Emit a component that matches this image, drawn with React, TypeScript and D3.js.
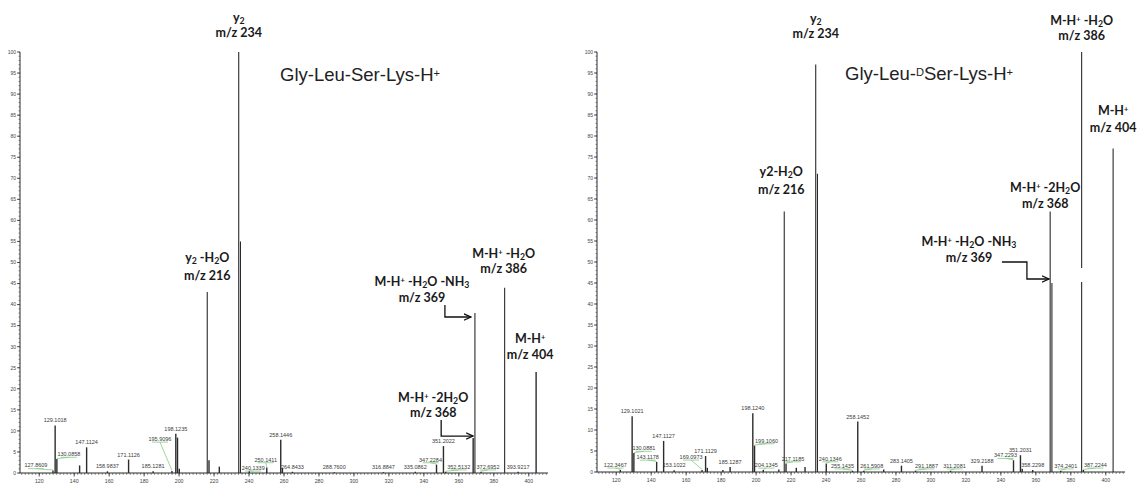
import * as d3 from "d3";
import React from "react";

// peaks: m/z, relative intensity (%), label text ("" = no label)
const leftMz = [127.86, 129.1, 130.09, 143.1, 147.11, 158.98, 171.11, 185.13, 195.91, 198.12, 199.1, 200.1, 216.1, 217.1, 223.0, 234.1, 235.1, 240.13, 250.14, 258.14, 259.1, 264.84, 288.76, 316.88, 335.09, 347.23, 351.2, 352.51, 368.2, 369.2, 372.7, 386.2, 393.92, 404.2];
const leftInt = [0.6, 11.3, 3.3, 1.8, 6.1, 0.4, 3.2, 0.4, 0.5, 9.3, 8.4, 1.0, 43, 3.0, 1.5, 100, 55, 0.5, 1.3, 7.9, 1.2, 0.3, 0.2, 0.2, 0.3, 2.0, 6.4, 0.3, 8.3, 38, 0.3, 44, 0.3, 24];
const leftLabels = ["127.8609", "129.1018", "130.0858", "", "147.1124", "158.9837", "171.1126", "185.1281", "195.9096", "198.1235", "", "", "", "", "", "", "", "240.1339", "250.1411", "258.1446", "", "264.8433", "288.7600", "316.8847", "335.0862", "347.2284", "351.2022", "352.5132", "", "", "372.6952", "", "393.9217", ""];

const rightMz = [122.35, 129.1, 130.09, 143.12, 147.11, 153.1, 169.1, 171.11, 172.1, 181.0, 185.13, 198.12, 199.11, 204.13, 213.0, 216.1, 217.12, 223.0, 228.0, 234.1, 235.1, 240.13, 255.14, 258.15, 261.59, 273.0, 283.14, 291.19, 311.21, 329.22, 347.23, 351.2, 352.2, 358.23, 368.2, 369.2, 374.24, 386.2, 387.22, 404.2];
const rightInt = [0.5, 13.3, 4.5, 2.4, 7.4, 0.4, 0.5, 3.8, 1.0, 0.5, 1.2, 14, 6.3, 0.5, 0.6, 62, 2.0, 1.0, 1.2, 97, 71, 2.0, 0.3, 12, 0.3, 0.6, 1.5, 0.3, 0.3, 1.5, 2.8, 4.0, 0.8, 0.5, 62, 45, 0.3, 100, 0.5, 77];
const rightLabels = ["122.3467", "129.1021", "130.0881", "143.1178", "147.1127", "153.1022", "169.0973", "171.1129", "", "", "185.1287", "198.1240", "199.1060", "204.1345", "", "", "217.1185", "", "", "", "", "240.1346", "255.1435", "258.1452", "261.5908", "", "283.1405", "291.1887", "311.2081", "329.2188", "347.2293", "351.2031", "", "358.2298", "", "", "374.2401", "", "387.2244", ""];

const xTicks = [120, 140, 160, 180, 200, 220, 240, 260, 280, 300, 320, 340, 360, 380, 400];
const yTicks = [0, 5, 10, 15, 20, 25, 30, 35, 40, 45, 50, 55, 60, 65, 70, 75, 80, 85, 90, 95, 100];

// label placement nudges (px) where the instrument moved labels aside
const nudges: Record<string, [number, number]> = {
  "127.8609": [-17, 0], "130.0858": [12, 0], "195.9096": [-12, -27], "240.1339": [4, 2],
  "250.1411": [-1, -3], "347.2284": [-6, 0], "352.5132": [13, 0], "372.6952": [7, 0],
  "122.3467": [-5, 0], "130.0881": [10, 0], "143.1178": [-9, 0], "169.0973": [-11, -8],
  "199.1060": [12, 0], "204.1345": [3, 0], "217.1185": [7, 0], "240.1346": [4, 0],
  "255.1435": [-10, 0], "261.5908": [8, 0], "291.1887": [11, 0], "311.2081": [4, 0],
  "347.2293": [-8, 0], "374.2401": [5, 0], "387.2244": [12, 0],
};

const mzDomain = [109, 411];
const ink = "#2b2b2b";
const green = "#86cc86";
const annFont = "Lato, 'Open Sans', sans-serif";
const smallFont = "'Liberation Sans', Arial, sans-serif";

const Sub = ({ t }: { t: string }) => (
  <tspan baselineShift="-25%" fontSize="70%">{t}</tspan>
);
const Sup = ({ t }: { t: string }) => (
  <tspan baselineShift="40%" fontSize="60%">{t}</tspan>
);

type PanelProps = {
  mz: number[];
  inten: number[];
  labels: string[];
  xRange: [number, number];
  yRange: [number, number];
  children: (x: d3.ScaleLinear<number, number>, y: d3.ScaleLinear<number, number>) => React.ReactNode;
};

const Panel = ({ mz, inten, labels, xRange, yRange, children }: PanelProps) => {
  const x = d3.scaleLinear().domain(mzDomain).range(xRange);
  const y = d3.scaleLinear().domain([0, 100]).range(yRange);
  const y0 = y(0);
  const minorX = d3.range(110, 411, 2);
  const minorY = d3.range(0, 101, 1);

  return (
    <g>
      {/* peaks */}
      {mz.map((m, i) => (
        <line key={"p" + i} x1={x(m)} x2={x(m)} y1={y0} y2={y(inten[i])}
          stroke={ink} strokeWidth={inten[i] > 30 ? 1.1 : 1.4} />
      ))}
      {/* small peak labels */}
      {mz.map((m, i) => {
        if (!labels[i]) return null;
        const [dx, dy] = nudges[labels[i]] || [0, 0];
        const px = x(m);
        const py = y(inten[i]);
        const lx = px + dx;
        const ly = py - 3 + dy;
        const moved = dx !== 0 || dy !== 0;
        return (
          <g key={"l" + i}>
            {moved && (
              <>
                <line x1={lx - 8} x2={lx + 8} y1={ly + 1.2} y2={ly + 1.2} stroke={green} strokeWidth={0.8} />
                <line x1={lx} x2={px} y1={ly + 1.2} y2={py - 0.5} stroke={green} strokeWidth={0.8} />
              </>
            )}
            <text x={lx} y={ly} textAnchor="middle" fontSize={5.5}
              fontFamily={smallFont} fill="#3a3a3a">{labels[i]}</text>
          </g>
        );
      })}
      {/* x axis */}
      <line x1={xRange[0]} x2={xRange[1]} y1={y0} y2={y0} stroke={ink} strokeWidth={1} />
      {minorX.map((v) => (
        <line key={"mx" + v} x1={x(v)} x2={x(v)} y1={y0} y2={y0 + 2} stroke={ink} strokeWidth={0.5} />
      ))}
      {xTicks.map((v) => (
        <g key={"x" + v}>
          <line x1={x(v)} x2={x(v)} y1={y0} y2={y0 + 3.5} stroke={ink} strokeWidth={0.8} />
          <text x={x(v)} y={y0 + 10} textAnchor="middle" fontSize={5.2}
            fontFamily={smallFont} fill="#444">{v}</text>
        </g>
      ))}
      {/* y axis */}
      <line x1={xRange[0]} x2={xRange[0]} y1={y0} y2={y(100)} stroke={ink} strokeWidth={1} />
      {minorY.map((v) => (
        <line key={"my" + v} x1={xRange[0] - 1.5} x2={xRange[0]} y1={y(v)} y2={y(v)} stroke={ink} strokeWidth={0.5} />
      ))}
      {yTicks.map((v) => (
        <g key={"y" + v}>
          <line x1={xRange[0] - 3} x2={xRange[0]} y1={y(v)} y2={y(v)} stroke={ink} strokeWidth={0.8} />
          <text x={xRange[0] - 4} y={y(v) + 1.8} textAnchor="end" fontSize={5}
            fontFamily={smallFont} fill="#444">{v}</text>
        </g>
      ))}
      {children(x, y)}
    </g>
  );
};

const Ann = ({ x, y, children }: { x: number; y: number; children: React.ReactNode }) => (
  <text x={x} y={y} textAnchor="middle" fontSize={12.5} fontWeight={700} fontFamily={annFont} fill="#1a1a1a">
    {children}
  </text>
);

const Arrow = ({ d }: { d: string }) => (
  <path d={d} fill="none" stroke="#111" strokeWidth={1.3} markerEnd="url(#arrowhead)" />
);

const at = (mz: number[], inten: number[], m: number) => inten[mz.indexOf(m)];

export default function App() {
  return (
    <svg width={1142} height={486} style={{ position: "absolute", left: 0, top: 0, background: "#fff" }}>
      <defs>
        <marker id="arrowhead" viewBox="0 0 10 10" refX={9} refY={5} markerWidth={6} markerHeight={6} orient="auto">
          <path d="M0,1 L9,5 L0,9" fill="none" stroke="#111" strokeWidth={1.6} />
        </marker>
      </defs>

      <Panel mz={leftMz} inten={leftInt} labels={leftLabels} xRange={[20, 548]} yRange={[473, 52]}>
        {(x, y) => {
          const p = (m: number) => [x(m), y(at(leftMz, leftInt, m))];
          const [x234, y234] = p(234.1);
          const [x216, y216] = p(216.1);
          const [x386, y386] = p(386.2);
          const [x404, y404] = p(404.2);
          const [x369, y369] = p(369.2);
          const [x368, y368] = p(368.2);
          return (
            <g>
              <text x={280} y={81} fontSize={18.5} fontFamily={smallFont} fill="#222">
                Gly-Leu-Ser-Lys-H<Sup t="+" />
              </text>
              <Ann x={x234} y={y234 - 30}>y<Sub t="2" /></Ann>
              <Ann x={x234} y={y234 - 15}>m/z 234</Ann>
              <Ann x={x216} y={y216 - 30}>y<Sub t="2" /> -H<Sub t="2" />O</Ann>
              <Ann x={x216} y={y216 - 12}>m/z 216</Ann>
              <Ann x={x386 - 1} y={y386 - 30}>M-H<Sup t="+" /> -H<Sub t="2" />O</Ann>
              <Ann x={x386 - 1} y={y386 - 15}>m/z  386</Ann>
              <Ann x={x404 - 6} y={y404 - 29}>M-H<Sup t="+" /></Ann>
              <Ann x={x404 - 6} y={y404 - 13}>m/z 404</Ann>
              <Ann x={x369 - 53} y={y369 - 27}>M-H<Sup t="+" /> -H<Sub t="2" />O -NH<Sub t="3" /></Ann>
              <Ann x={x369 - 53} y={y369 - 11}>m/z 369</Ann>
              <Arrow d={`M${x369 - 30},${y369 - 8} V${y369 + 4} H${x369 - 4}`} />
              <Ann x={x368 - 40} y={y368 - 36}>M-H<Sup t="+" /> -2H<Sub t="2" />O</Ann>
              <Ann x={x368 - 40} y={y368 - 21}>m/z 368</Ann>
              <Arrow d={`M${x368 - 32},${y368 - 18} V${y368 - 2} H${x368}`} />
            </g>
          );
        }}
      </Panel>

      <Panel mz={rightMz} inten={rightInt} labels={rightLabels} xRange={[597, 1125]} yRange={[472, 52]}>
        {(x, y) => {
          const p = (m: number) => [x(m), y(at(rightMz, rightInt, m))];
          const [x234, y234] = p(234.1);
          const [x216, y216] = p(216.1);
          const [x386, y386] = p(386.2);
          const [x404, y404] = p(404.2);
          const [x369, y369] = p(369.2);
          const [x368, y368] = p(368.2);
          return (
            <g>
              {/* break in the m/z 386 line where the arrow passes */}
              <rect x={x386 - 2} y={y369 - 15} width={4} height={14} fill="#fff" />
              <text x={845} y={80} fontSize={18.5} fontFamily={smallFont} fill="#222">
                Gly-Leu-<Sup t="D" />Ser-Lys-H<Sup t="+" />
              </text>
              <Ann x={x234} y={y234 - 42}>y<Sub t="2" /></Ann>
              <Ann x={x234} y={y234 - 27}>m/z 234</Ann>
              <Ann x={x216 - 3} y={y216 - 36}>y2-H<Sub t="2" />O</Ann>
              <Ann x={x216 - 3} y={y216 - 18}>m/z 216</Ann>
              <Ann x={x386} y={y386 - 27}>M-H<Sup t="+" /> -H<Sub t="2" />O</Ann>
              <Ann x={x386} y={y386 - 12}>m/z  386</Ann>
              <Ann x={x404} y={y404 - 34}>M-H<Sup t="+" /></Ann>
              <Ann x={x404} y={y404 - 17}>m/z 404</Ann>
              <Ann x={x368 - 5} y={y368 - 20}>M-H<Sup t="+" /> -2H<Sub t="2" />O</Ann>
              <Ann x={x368 - 5} y={y368 - 4}>m/z 368</Ann>
              <Ann x={x369 - 83} y={y369 - 37}>M-H<Sup t="+" /> -H<Sub t="2" />O -NH<Sub t="3" /></Ann>
              <Ann x={x369 - 83} y={y369 - 21}>m/z 369</Ann>
              <Arrow d={`M${x369 - 50},${y369 - 21} H${x369 - 25} V${y369 - 4} H${x369 - 3}`} />
            </g>
          );
        }}
      </Panel>
    </svg>
  );
}
